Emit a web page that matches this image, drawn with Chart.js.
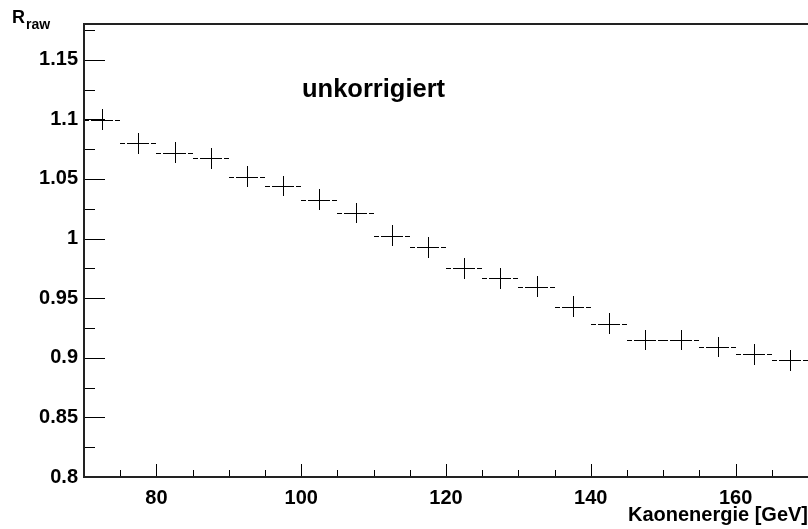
<!DOCTYPE html>
<html>
<head>
<meta charset="utf-8">
<script src="https://cdn.jsdelivr.net/npm/chart.js@4.4.1/dist/chart.umd.min.js"></script>
<style>
  html, body { margin: 0; padding: 0; background: #fff; }
</style>
</head>
<body>
<canvas id="chart" width="808" height="529"></canvas>
<script>
const energies = [72.5, 77.5, 82.5, 87.5, 92.5, 97.5, 102.5, 107.5, 112.5, 117.5,
                  122.5, 127.5, 132.5, 137.5, 142.5, 147.5, 152.5, 157.5, 162.5, 167.5];
const rRaw = [1.0998, 1.080, 1.072, 1.0674, 1.052, 1.0442, 1.0325, 1.0215, 1.0023, 0.9928,
              0.9752, 0.9668, 0.9595, 0.943, 0.9287, 0.915, 0.915, 0.909, 0.903, 0.898];
const rErr = [0.0087, 0.0087, 0.0087, 0.0087, 0.0087, 0.0087, 0.0087, 0.0087, 0.0087, 0.0087,
              0.0087, 0.0087, 0.0087, 0.0087, 0.0087, 0.0087, 0.0087, 0.0087, 0.0087, 0.0087];
const binHalfWidth = 2.5;

const xTickLabels = ['80', '100', '120', '140', '160'];
const yTickLabels = ['0.8', '0.85', '0.9', '0.95', '1', '1.05', '1.1', '1.15'];

const X_MIN = 70, X_MAX = 170, X_MINOR = 5;
const Y_MIN = 0.8, Y_MAX = 1.18, Y_MINOR = 0.025;

Chart.defaults.font.family = '"Liberation Sans", Arial, Helvetica, sans-serif';
const boldFont = {size: 20, weight: 'bold'};

function steps(from, to, step) {
  const out = [];
  for (let v = from; v <= to + step / 1000; v += step) out.push({value: +v.toFixed(4)});
  return out;
}

function isLabelled(labels, v) {
  return labels.some(l => Math.abs(parseFloat(l) - v) < 1e-6);
}

// ROOT style frame, inside ticks, error bars and text
const rootStyle = {
  id: 'rootStyle',
  afterDatasetsDraw(chart) {
    const {ctx, scales: {x, y}} = chart;
    const meta = chart.getDatasetMeta(0);
    ctx.save();
    ctx.strokeStyle = '#000';
    ctx.lineWidth = 1;
    meta.data.forEach((pt, i) => {
      const cx = Math.round(pt.x) + 0.5;
      const cy = Math.round(pt.y) + 0.5;
      const L = Math.round(x.getPixelForValue(energies[i] - binHalfWidth));
      const R = Math.round(x.getPixelForValue(energies[i] + binHalfWidth));
      const top = y.getPixelForValue(rRaw[i] + rErr[i]);
      const bot = y.getPixelForValue(rRaw[i] - rErr[i]);
      ctx.beginPath();
      ctx.moveTo(L, cy); ctx.lineTo(L + 5, cy);
      ctx.moveTo(L + 7, cy); ctx.lineTo(R - 7, cy);
      ctx.moveTo(R - 5, cy); ctx.lineTo(R, cy);
      ctx.moveTo(cx, Math.round(top)); ctx.lineTo(cx, Math.round(bot));
      ctx.stroke();
    });
    ctx.restore();
  },
  afterDraw(chart) {
    const {ctx, chartArea: a, scales: {x, y}} = chart;
    ctx.save();
    ctx.strokeStyle = '#000';
    ctx.lineWidth = 1;
    ctx.beginPath();
    y.ticks.forEach(t => {
      const py = Math.round(y.getPixelForValue(t.value)) + 0.5;
      const len = isLabelled(yTickLabels, t.value) ? 21 : 11;
      ctx.moveTo(a.left, py); ctx.lineTo(a.left + len, py);
    });
    x.ticks.forEach(t => {
      const px = Math.round(x.getPixelForValue(t.value)) + 0.5;
      const len = isLabelled(xTickLabels, t.value) ? 13 : 7;
      ctx.moveTo(px, a.bottom); ctx.lineTo(px, a.bottom - len);
    });
    ctx.stroke();

    // frame
    ctx.lineWidth = 2;
    ctx.strokeStyle = '#222';
    ctx.strokeRect(a.left, a.top, a.right - a.left + 2, a.bottom - a.top);

    // texts
    ctx.fillStyle = '#000';
    ctx.textBaseline = 'alphabetic';
    ctx.textAlign = 'left';
    ctx.font = 'bold 18px "Liberation Sans", Arial, sans-serif';
    ctx.fillText('R', 12, 23);
    ctx.font = 'bold 14px "Liberation Sans", Arial, sans-serif';
    ctx.fillText('raw', 26, 29);
    ctx.font = 'bold 25.5px "Liberation Sans", Arial, sans-serif';
    ctx.fillText('unkorrigiert', 302, 97);
    ctx.restore();
  }
};

new Chart(document.getElementById('chart'), {
  type: 'scatter',
  data: {
    datasets: [{
      label: 'R_raw',
      data: energies.map((e, i) => ({x: e, y: rRaw[i]})),
      pointRadius: 0,
      showLine: false
    }]
  },
  options: {
    responsive: false,
    animation: false,
    devicePixelRatio: 1,
    layout: {padding: {top: 24, right: 0, left: 0, bottom: 0}},
    plugins: {legend: {display: false}, tooltip: {enabled: false}},
    scales: {
      x: {
        type: 'linear', min: X_MIN, max: X_MAX,
        grid: {display: false, drawTicks: false},
        border: {display: false},
        afterBuildTicks: s => { s.ticks = steps(X_MIN, X_MAX, X_MINOR); },
        afterFit: s => { s.height = 52; s.paddingLeft = 0; s.paddingRight = 0; },
        ticks: {
          font: boldFont, color: '#000', padding: 9,
          autoSkip: false, maxRotation: 0,
          callback: v => isLabelled(xTickLabels, v) ? String(v) : ''
        },
        title: {
          display: true, text: 'Kaonenergie [GeV]', align: 'end',
          font: boldFont, color: '#000', padding: {top: 0, bottom: 2}
        }
      },
      y: {
        type: 'linear', min: Y_MIN, max: Y_MAX,
        grid: {display: false, drawTicks: false},
        border: {display: false},
        afterBuildTicks: s => { s.ticks = steps(Y_MIN, 1.175, Y_MINOR); },
        afterFit: s => { s.width = 84; },
        ticks: {
          font: boldFont, color: '#000', padding: 6, autoSkip: false,
          callback: v => {
            const l = yTickLabels.find(t => Math.abs(parseFloat(t) - v) < 1e-6);
            return l || '';
          }
        }
      }
    }
  },
  plugins: [rootStyle]
});
</script>
</body>
</html>
